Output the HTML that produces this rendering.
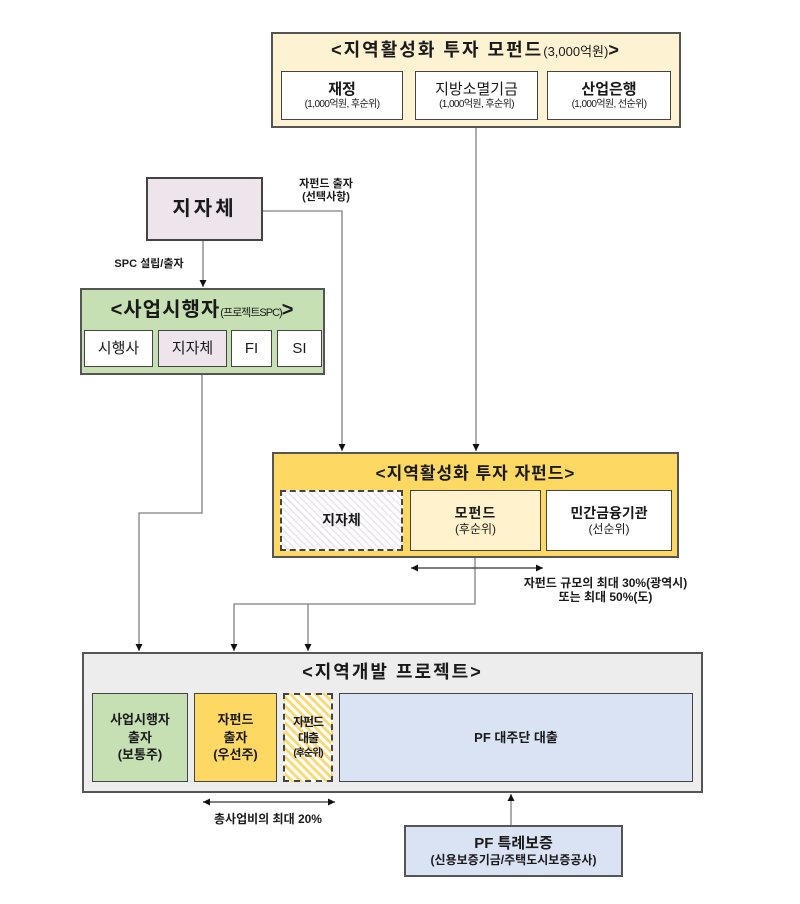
<!DOCTYPE html>
<html><head><meta charset="utf-8">
<style>
*{margin:0;padding:0;box-sizing:border-box}
body{width:800px;height:904px;background:#fff;position:relative;overflow:hidden;font-family:"Liberation Sans","Noto Sans CJK KR",sans-serif;color:#1a1a1a}
.b{position:absolute;display:flex;flex-direction:column;align-items:center;justify-content:center;text-align:center;font-weight:bold;line-height:1.2}
.t{position:absolute;text-align:center;font-weight:bold;white-space:nowrap;line-height:1.2}
svg{position:absolute;left:0;top:0}
</style></head><body>

<!-- Top mother fund -->
<div class="b" style="left:271px;top:32px;width:410px;height:96px;background:#fdf2d1;border:2px solid #555;"></div>
<div class="t" style="left:271px;top:40px;width:410px;font-size:18px;letter-spacing:2px;">&lt;지역활성화 투자 모펀드<span style="font-size:13px;font-weight:normal;letter-spacing:0">(3,000억원)</span>&gt;</div>
<div class="b" style="left:281px;top:71px;width:122px;height:49px;background:#fff;border:1.5px solid #444;">
<div style="font-size:15px">재정</div><div style="font-size:10px;font-weight:normal;letter-spacing:-0.6px">(1,000억원, 후순위)</div></div>
<div class="b" style="left:415px;top:71px;width:123px;height:49px;background:#fff;border:1.5px solid #444;">
<div style="font-size:15px;font-weight:normal">지방소멸기금</div><div style="font-size:10px;font-weight:normal;letter-spacing:-0.6px">(1,000억원, 후순위)</div></div>
<div class="b" style="left:547px;top:71px;width:124px;height:49px;background:#fff;border:1.5px solid #444;">
<div style="font-size:15px">산업은행</div><div style="font-size:10px;font-weight:normal;letter-spacing:-0.6px">(1,000억원, 선순위)</div></div>

<!-- Local government -->
<div class="b" style="left:146px;top:177px;width:117px;height:64px;background:#ede4ec;border:2px solid #444;font-size:20px;letter-spacing:3px;">지자체</div>
<div class="t" style="left:288px;top:178px;width:76px;font-size:11px;">자펀드 출자<br>(선택사항)</div>
<div class="t" style="left:104px;top:258px;width:90px;font-size:11px;">SPC 설립/출자</div>

<!-- SPC -->
<div class="b" style="left:80px;top:288px;width:245px;height:87px;background:#c6e0b4;border:2px solid #555;"></div>
<div class="t" style="left:80px;top:298px;width:245px;font-size:20px;letter-spacing:1px;">&lt;사업시행자<span style="font-size:11px;font-weight:normal;letter-spacing:-1px">(프로젝트SPC)</span>&gt;</div>
<div class="b" style="left:84px;top:330px;width:69px;height:37px;background:#fff;border:1.5px solid #444;font-size:15px;font-weight:normal;">시행사</div>
<div class="b" style="left:158px;top:330px;width:69px;height:37px;background:#ede4ec;border:1.5px solid #444;font-size:15px;font-weight:normal;">지자체</div>
<div class="b" style="left:231px;top:330px;width:41px;height:37px;background:#fff;border:1.5px solid #444;font-size:15px;font-weight:normal;">FI</div>
<div class="b" style="left:277px;top:330px;width:45px;height:37px;background:#fff;border:1.5px solid #444;font-size:15px;font-weight:normal;">SI</div>

<!-- Sub-fund -->
<div class="b" style="left:272px;top:452px;width:407px;height:106px;background:#fdd862;border:2px solid #555;"></div>
<div class="t" style="left:272px;top:464px;width:407px;font-size:17px;letter-spacing:1px;">&lt;지역활성화 투자 자펀드&gt;</div>
<div class="b" style="left:280px;top:490px;width:123px;height:61px;background:repeating-linear-gradient(45deg,#fff 0 3.5px,#ebe2ec 3.5px 5px);border:2px dashed #444;font-size:14px;">지자체</div>
<div class="b" style="left:410px;top:490px;width:131px;height:61px;background:#fff2cc;border:1.5px solid #444;"><div style="font-size:14px;letter-spacing:1px">모펀드</div><div style="font-size:12px;font-weight:normal">(후순위)</div></div>
<div class="b" style="left:546px;top:490px;width:126px;height:61px;background:#fff;border:1.5px solid #444;"><div style="font-size:14px">민간금융기관</div><div style="font-size:12px;font-weight:normal">(선순위)</div></div>
<div class="t" style="left:498px;top:576px;width:215px;font-size:12px;">자펀드 규모의 최대 30%(광역시)<br>또는 최대 50%(도)</div>

<!-- Project -->
<div class="b" style="left:82px;top:652px;width:621px;height:141px;background:#ededed;border:2px solid #555;"></div>
<div class="t" style="left:82px;top:662px;width:621px;font-size:18px;letter-spacing:2px;">&lt;지역개발 프로젝트&gt;</div>
<div class="b" style="left:92px;top:693px;width:96px;height:89px;background:#c6e0b4;border:1.5px solid #444;font-size:13px;line-height:1.35;">사업시행자<br>출자<br>(보통주)</div>
<div class="b" style="left:194px;top:693px;width:83px;height:89px;background:#fdd862;border:1.5px solid #444;font-size:13px;line-height:1.35;">자펀드<br>출자<br>(우선주)</div>
<div class="b" style="left:283px;top:693px;width:50px;height:89px;background:repeating-linear-gradient(45deg,#fff 0 3px,#fbd870 3px 6px);border:2px dashed #444;font-size:12px;letter-spacing:-1px;line-height:1.3;">자펀드<br>대출<br><span style="font-size:10px">(후순위)</span></div>
<div class="b" style="left:339px;top:693px;width:354px;height:89px;background:#dae3f3;border:1.5px solid #444;font-size:13px;">PF 대주단 대출</div>
<div class="t" style="left:198px;top:812px;width:140px;font-size:12px;">총사업비의 최대 20%</div>

<!-- Guarantee -->
<div class="b" style="left:404px;top:825px;width:219px;height:52px;background:#dae3f3;border:2px solid #555;"><div style="font-size:15px">PF 특례보증</div><div style="font-size:12px">(신용보증기금/주택도시보증공사)</div></div>

<svg width="800" height="904" viewBox="0 0 800 904">
<defs>
<marker id="a" markerWidth="8" markerHeight="8" refX="7" refY="4" orient="auto" markerUnits="userSpaceOnUse">
<path d="M0,0.5 L7,4 L0,7.5 Z" fill="#111"/></marker>
<marker id="s" markerWidth="8" markerHeight="8" refX="1" refY="4" orient="auto" markerUnits="userSpaceOnUse">
<path d="M8,0.5 L1,4 L8,7.5 Z" fill="#111"/></marker>
</defs>
<g fill="none" stroke="#808080" stroke-width="1.3">
<path d="M476,128 V451" marker-end="url(#a)"/>
<path d="M263,211 H342 V451" marker-end="url(#a)"/>
<path d="M203,241 V287" marker-end="url(#a)"/>
<path d="M202,375 V513 H139 V651" marker-end="url(#a)"/>
<path d="M475,558 V604 H234 V651" marker-end="url(#a)"/>
<path d="M308,604 V651" marker-end="url(#a)"/>
<path d="M511,825 V794" marker-end="url(#a)"/>
<path d="M411,568 H543" stroke="#333" marker-start="url(#s)" marker-end="url(#a)"/>
<path d="M203,802 H335" stroke="#333" marker-start="url(#s)" marker-end="url(#a)"/>
</g>
</svg>
</body></html>
